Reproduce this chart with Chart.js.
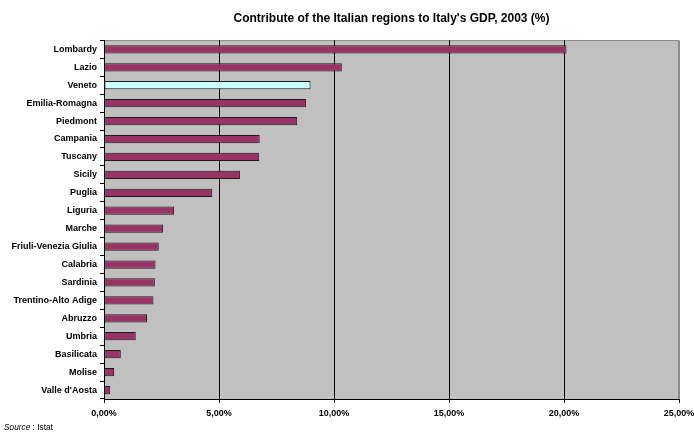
<!DOCTYPE html>
<html>
<head>
<meta charset="utf-8">
<script src="https://cdn.jsdelivr.net/npm/chart.js@4/dist/chart.umd.min.js"></script>
<style>
  html, body { margin: 0; padding: 0; background: #ffffff; }
  #wrap { position: relative; width: 694px; height: 441px; }
  #source {
    position: absolute; left: 4px; top: 422px;
    font-family: "Liberation Sans", Arial, sans-serif; font-size: 8.3px; color: #000;
  }
</style>
</head>
<body>
<div id="wrap">
  <canvas id="chart" width="694" height="441"></canvas>
  <div id="source"><i>Source</i> : Istat</div>
</div>
<script>
// Regional share of national GDP, 2003 (%)
const regions = [
  "Lombardy", "Lazio", "Veneto", "Emilia-Romagna", "Piedmont", "Campania",
  "Tuscany", "Sicily", "Puglia", "Liguria", "Marche", "Friuli-Venezia Giulia",
  "Calabria", "Sardinia", "Trentino-Alto Adige", "Abruzzo", "Umbria",
  "Basilicata", "Molise", "Valle d'Aosta"
];
const gdpShare = [
  20.11, 10.34, 8.98, 8.78, 8.40, 6.77,
  6.75, 5.91, 4.71, 3.05, 2.57, 2.38,
  2.24, 2.21, 2.15, 1.87, 1.38,
  0.73, 0.44, 0.27
];
const xTickValues = [0, 5, 10, 15, 20, 25];
const highlighted = "Veneto";

const FONT = '"Liberation Sans", Arial, sans-serif';
const barFill = regions.map(r => r === highlighted ? "#ccffff" : "#993366");

// plot background plus the grey top/right frame
const plotFrame = {
  id: "plotFrame",
  beforeDraw(chart) {
    const { ctx, chartArea: a } = chart;
    ctx.save();
    ctx.fillStyle = "#c0c0c0";
    ctx.fillRect(a.left, a.top, a.right - a.left, a.bottom - a.top);
    ctx.strokeStyle = "#8c8c8c";
    ctx.lineWidth = 1;
    ctx.beginPath();
    ctx.moveTo(a.left, Math.round(a.top) + 0.5);
    ctx.lineTo(Math.round(a.right) - 0.5, Math.round(a.top) + 0.5);
    ctx.lineTo(Math.round(a.right) - 0.5, a.bottom);
    ctx.stroke();
    ctx.restore();
  }
};

new Chart(document.getElementById("chart"), {
  type: "bar",
  data: {
    labels: regions,
    datasets: [{
      data: gdpShare,
      backgroundColor: barFill,
      borderColor: "#1a1a1a",
      borderWidth: 1,
      borderSkipped: false,
      categoryPercentage: 1,
      barPercentage: 0.46
    }]
  },
  options: {
    indexAxis: "y",
    responsive: false,
    animation: false,
    devicePixelRatio: 1,
    layout: { padding: { left: 0, right: 15, top: 0, bottom: 14 } },
    plugins: {
      legend: { display: false },
      tooltip: { enabled: false },
      title: {
        display: true,
        fullSize: false,
        text: "Contribute of the Italian regions to Italy's GDP, 2003 (%)",
        color: "#000",
        font: { family: FONT, size: 12, weight: "bold" },
        padding: { top: 11, bottom: 15 }
      }
    },
    scales: {
      x: {
        min: 0,
        max: 25,
        afterBuildTicks(scale) {
          scale.ticks = xTickValues.map(v => ({ value: v }));
        },
        afterFit(scale) {
          scale.paddingLeft = 0;
          scale.paddingRight = 0;
          scale.height = 28;
        },
        border: { display: true, color: "#000", width: 1 },
        grid: {
          color: ctx => (ctx.tick && ctx.tick.value === 25 ? "#8c8c8c" : "#000"),
          tickColor: "#000",
          tickLength: 4,
          lineWidth: 1
        },
        ticks: {
          color: "#000",
          padding: 5,
          maxRotation: 0,
          font: { family: FONT, size: 9, weight: "bold" },
          callback: v => v.toFixed(2).replace(".", ",") + "%"
        }
      },
      y: {
        afterFit(scale) {
          scale.width = 104;
        },
        border: { display: true, color: "#000", width: 1 },
        grid: {
          offset: true,
          drawOnChartArea: false,
          color: "#000",
          tickLength: 4
        },
        ticks: {
          color: "#000",
          padding: 3,
          autoSkip: false,
          font: { family: FONT, size: 9, weight: "bold" }
        }
      }
    }
  },
  plugins: [plotFrame]
});
</script>
</body>
</html>
